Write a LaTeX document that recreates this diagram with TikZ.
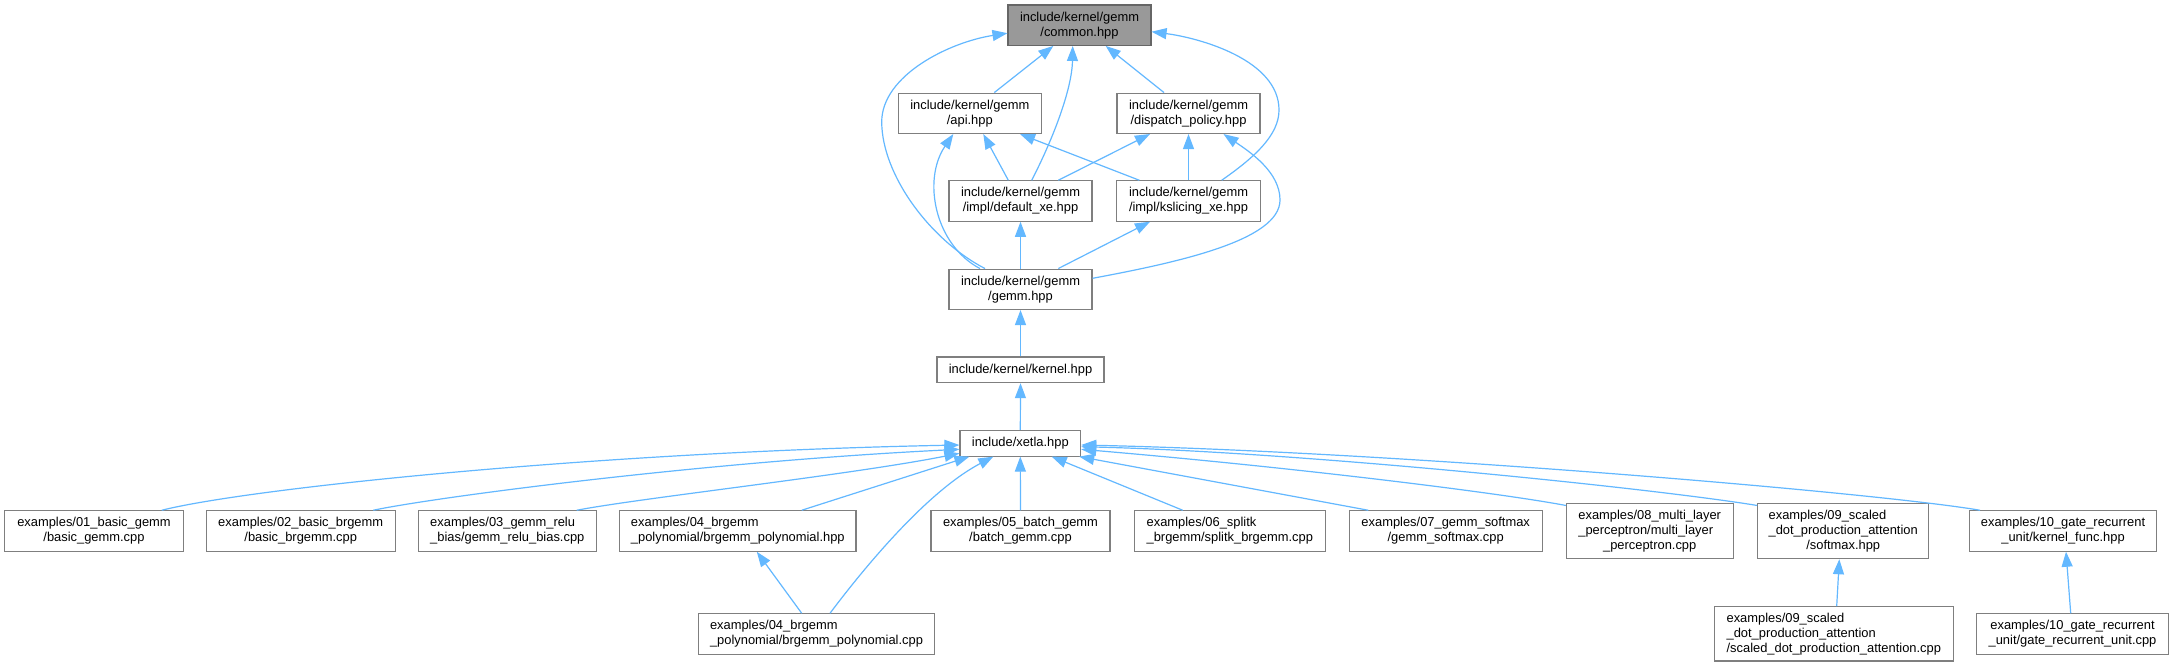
\documentclass[tikz,border=0pt]{standalone}
\usepackage{fontspec}
\setmainfont{Liberation Sans}
\usetikzlibrary{arrows.meta}
\definecolor{edgeblue}{HTML}{63B8FF}
\definecolor{nodeborder}{HTML}{7F7F7F}
\definecolor{rootfill}{HTML}{999999}
\definecolor{rootborder}{HTML}{666666}
\begin{document}
\begin{tikzpicture}[x=1pt,y=-1pt,
  box/.style={draw=nodeborder, fill=white, line width=1.1pt, inner sep=0pt,
    minimum height=40.4pt, font=\fontsize{12.9}{15}\selectfont},
  one/.style={minimum height=25.7pt},
  three/.style={minimum height=55.4pt},
  edge/.style={draw=edgeblue, line width=1.2pt, -{Triangle[length=15pt,width=11pt]}}]
\useasboundingbox[fill=white] (0,0) rectangle (2173,667);

% nodes
\node[box, align=center, fill=rootfill, draw=rootborder, minimum width=143pt] (common) at (1079.5,25.2) {include/kernel/gemm\\/common.hpp};
\node[box, align=center, minimum width=143pt] (api) at (969.8,113.3) {include/kernel/gemm\\/api.hpp};
\node[box, align=center, minimum width=143pt] (dispatch) at (1188.5,113.3) {include/kernel/gemm\\/dispatch\_policy.hpp};
\node[box, align=center, minimum width=143pt] (default) at (1020.5,201) {include/kernel/gemm\\/impl/default\_xe.hpp};
\node[box, align=center, minimum width=144.4pt] (kslicing) at (1188.5,201) {include/kernel/gemm\\/impl/kslicing\_xe.hpp};
\node[box, align=center, minimum width=143pt] (gemm) at (1020.5,289.3) {include/kernel/gemm\\/gemm.hpp};
\node[box, one, minimum width=167pt] (kernel) at (1020.5,369.8) {include/kernel/kernel.hpp};
\node[box, one, minimum width=120.7pt] (xetla) at (1020.3,443.2) {include/xetla.hpp};

\node[box, align=center, minimum width=178.3pt] (e01) at (94,531) {examples/01\_basic\_gemm\\/basic\_gemm.cpp};
\node[box, align=center, minimum width=188.7pt] (e02) at (300.7,531) {examples/02\_basic\_brgemm\\/basic\_brgemm.cpp};
\node[box, align=left, minimum width=178pt] (e03) at (507.3,531) {examples/03\_gemm\_relu\\\_bias/gemm\_relu\_bias.cpp};
\node[box, align=left, minimum width=236.3pt] (e04h) at (737.8,531) {examples/04\_brgemm\\\_polynomial/brgemm\_polynomial.hpp};
\node[box, align=left, minimum width=236.4pt] (e04c) at (816.5,634) {examples/04\_brgemm\\\_polynomial/brgemm\_polynomial.cpp};
\node[box, align=center, minimum width=179pt] (e05) at (1020.5,531) {examples/05\_batch\_gemm\\/batch\_gemm.cpp};
\node[box, align=left, minimum width=191pt] (e06) at (1229.8,531) {examples/06\_splitk\\\_brgemm/splitk\_brgemm.cpp};
\node[box, align=center, minimum width=192.7pt] (e07) at (1445.7,531) {examples/07\_gemm\_softmax\\/gemm\_softmax.cpp};
\node[box, three, minimum width=166.7pt] (e08) at (1649.7,531) {\begin{tabular}{@{}c@{}}\multicolumn{1}{@{}l@{}}{examples/08\_multi\_layer}\\\multicolumn{1}{@{}l@{}}{\_perceptron/multi\_layer}\\\_perceptron.cpp\end{tabular}};
\node[box, three, minimum width=171pt] (e09h) at (1843.2,531) {\begin{tabular}{@{}c@{}}\multicolumn{1}{@{}l@{}}{examples/09\_scaled}\\\multicolumn{1}{@{}l@{}}{\_dot\_production\_attention}\\/softmax.hpp\end{tabular}};
\node[box, three, align=left, minimum width=239pt, minimum height=54.3pt] (e09c) at (1833.8,633.8) {examples/09\_scaled\\\_dot\_production\_attention\\/scaled\_dot\_production\_attention.cpp};
\node[box, align=center, minimum width=187.4pt] (e10h) at (2063,531) {examples/10\_gate\_recurrent\\\_unit/kernel\_func.hpp};
\node[box, align=center, minimum width=191.7pt] (e10c) at (2072.5,634) {examples/10\_gate\_recurrent\\\_unit/gate\_recurrent\_unit.cpp};

% waypoints
\coordinate (wl) at (881.7,122);
\coordinate (wr) at (1279,110);
\coordinate (wd) at (1280,200);

% upper edges
\draw[edge] ([xshift=24.5pt]api.north) -- ([xshift=-26.2pt]common.south);
\draw[edge] ([xshift=11.2pt]default.north) .. controls (1052,141) and (1072,90) .. ([xshift=-6.8pt]common.south);
\draw[edge] ([xshift=-24.5pt]dispatch.north) -- ([xshift=26.2pt]common.south);
\draw[edge] ([xshift=-35.5pt]gemm.north) .. controls (930,240) and (882,175) .. (wl) .. controls (881.7,75) and (950,42) .. ([yshift=-8pt]common.west);
\draw[edge] ([xshift=33.2pt]kslicing.north) .. controls (1255,157) and (1279,135) .. (wr) .. controls (1279,60) and (1200,38) .. ([yshift=-6.5pt]common.east);
\draw[edge] ([xshift=-12.2pt]default.north) -- ([xshift=13.5pt]api.south);
\draw[edge] ([xshift=-49.2pt]kslicing.north) -- ([xshift=50.2pt]api.south);
\draw[edge] ([xshift=-40.5pt]gemm.north) .. controls (935,245) and (922,180) .. ([xshift=-16.5pt]api.south);
\draw[edge] ([xshift=37.8pt]default.north) -- ([xshift=-38.5pt]dispatch.south);
\draw[edge] (kslicing.north) -- (dispatch.south);
\draw[edge] ([yshift=11pt]gemm.east) .. controls (1180,262) and (1280,240) .. (wd) .. controls (1280,172) and (1250,152) .. ([xshift=35pt]dispatch.south);
\draw[edge] (gemm.north) -- (default.south);
\draw[edge] ([xshift=37.8pt]gemm.north) -- ([xshift=-38.5pt]kslicing.south);
\draw[edge] (kernel.north) -- (gemm.south);
\draw[edge] (xetla.north) -- (kernel.south);

% lower edges
\draw[edge] ([xshift=67.7pt]e01.north) .. controls (250,488) and (600,452) .. ([yshift=-1.8pt]xetla.west);
\draw[edge] ([xshift=72.6pt]e02.north) .. controls (430,498) and (700,462) .. ([yshift=-6.1pt]xetla.west);
\draw[edge] ([xshift=69.4pt]e03.north) .. controls (640,498) and (850,475) .. ([yshift=-10.1pt]xetla.west);
\draw[edge] ([xshift=63.9pt]e04h.north) -- ([xshift=10pt]xetla.south west);
\draw[edge] ([xshift=13.5pt]e04c.north) .. controls (870,560) and (930,490) .. ([xshift=-27pt]xetla.south);
\draw[edge] ([xshift=-14.8pt]e04c.north) -- ([xshift=19pt]e04h.south);
\draw[edge] (e05.north) -- (xetla.south);
\draw[edge] ([xshift=-47.1pt]e06.north) -- ([xshift=31.4pt]xetla.south);
\draw[edge] ([xshift=-77.4pt]e07.north) -- ([xshift=-2pt]xetla.south east);
\draw[edge] ([yshift=-2.7pt]e08.north west) .. controls (1500,493) and (1300,468) .. ([yshift=-6.1pt]xetla.east);
\draw[edge] ([yshift=-2.7pt]e09h.north west) .. controls (1650,488) and (1300,452) .. ([yshift=-3.5pt]xetla.east);
\draw[edge] ([xshift=-83pt]e10h.north) .. controls (1880,493) and (1400,452) .. ([yshift=-1.8pt]xetla.east);
\draw[edge] ([xshift=2.9pt]e09c.north) -- ([xshift=-3.9pt]e09h.south);
\draw[edge] ([xshift=-1.8pt]e10c.north) -- ([xshift=3pt]e10h.south);
\end{tikzpicture}
\end{document}
